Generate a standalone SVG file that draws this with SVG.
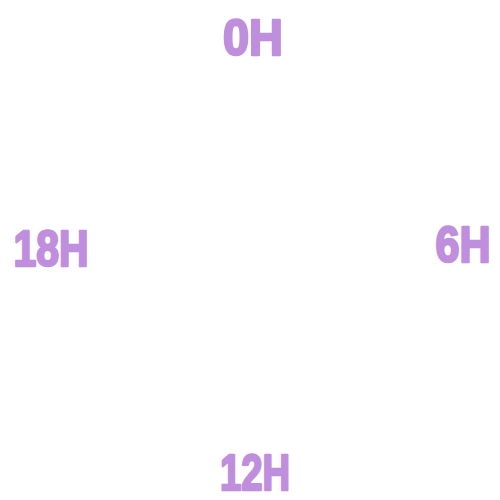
<svg xmlns="http://www.w3.org/2000/svg" width="500" height="500" viewBox="0 0 500 500">
<style>
.lbl{font-family:"Liberation Sans","DejaVu Sans",sans-serif;font-weight:bold;font-size:50px;fill:#bf8fde;stroke:#bf8fde;stroke-width:2.5;stroke-linejoin:round;text-anchor:middle}
</style>
<rect width="500" height="500" fill="#ffffff"/>
<g id="connectors"></g>
<g id="n0h"><text class="lbl" x="253" y="55" textLength="60" lengthAdjust="spacingAndGlyphs">0H</text></g>
<g id="n6h"><text class="lbl" x="463" y="262" textLength="55" lengthAdjust="spacingAndGlyphs">6H</text></g>
<g id="n12h"><text class="lbl" x="255" y="490" textLength="70" lengthAdjust="spacingAndGlyphs">12H</text></g>
<g id="n18h"><text class="lbl" x="51" y="266" textLength="75" lengthAdjust="spacingAndGlyphs">18H</text></g>
</svg>
